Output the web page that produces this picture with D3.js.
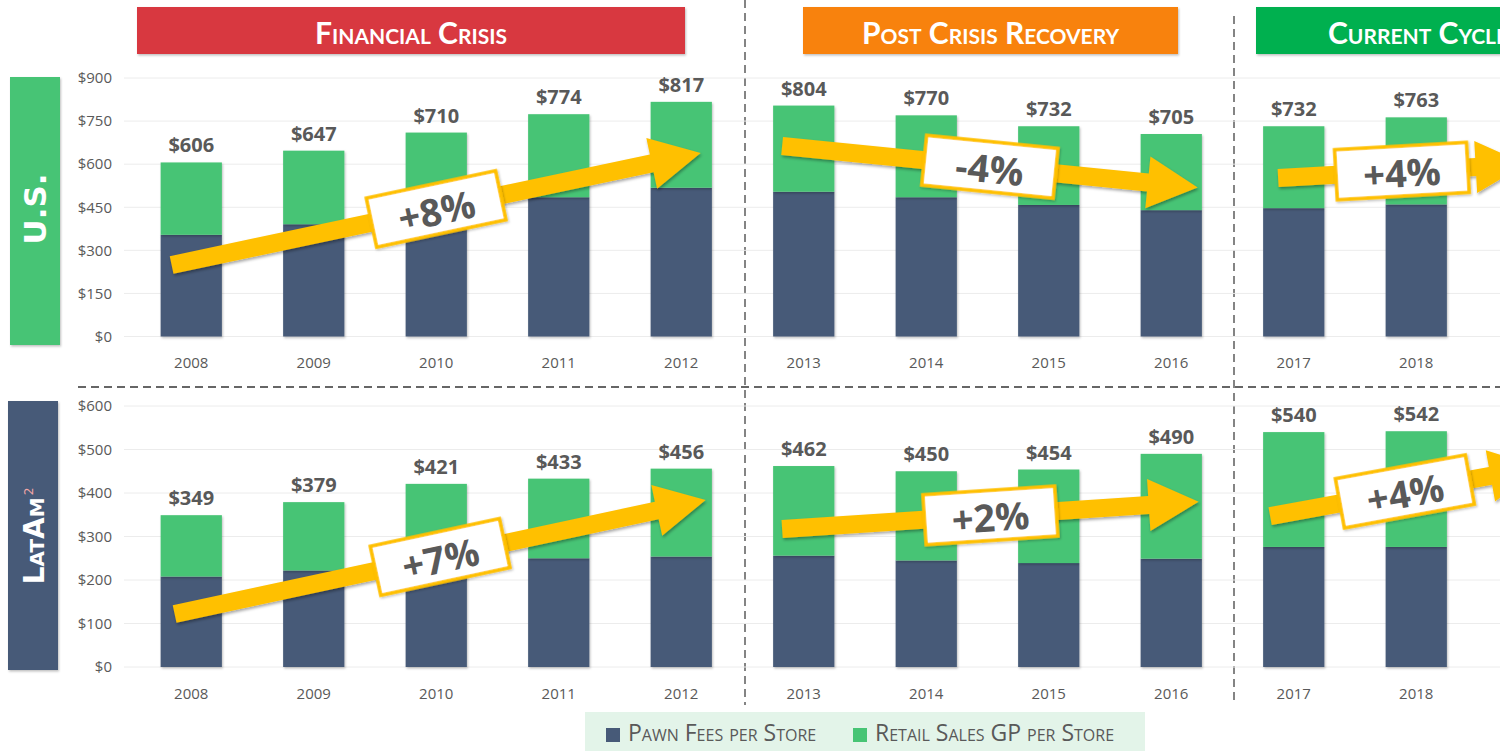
<!DOCTYPE html>
<html lang="en">
<head>
  <meta charset="UTF-8" />
  <title>Pawn Fees and Retail GP per Store</title>
  <style>
    *{margin:0;padding:0;box-sizing:border-box}
    body{background:#fff;width:1500px;height:751px;overflow:hidden}
    svg{display:block}
    .tick text{font-family:"Open Sans",sans-serif;fill:#595959}
    .sc{font-variant:small-caps}
  </style>
</head>
<body>
  <div id="chart"></div>
  <script src="https://d3js.org/d3.v7.min.js"></script>
  <script>
    // values per store
    const years     = [2008, 2009, 2010, 2011, 2012, 2013, 2014, 2015, 2016, 2017, 2018];
    const usPawn    = [354, 391, 430, 485, 518, 504, 485, 458, 440, 447, 460];
    const usRetail  = [252, 256, 280, 289, 299, 300, 285, 274, 265, 285, 303];
    const laPawn    = [208, 222, 236, 250, 254, 256, 245, 239, 249, 276, 276];
    const laRetail  = [141, 157, 185, 183, 202, 206, 205, 215, 241, 264, 266];
    const usTicks   = [0, 150, 300, 450, 600, 750, 900];
    const laTicks   = [0, 100, 200, 300, 400, 500, 600];
    const periods   = ['Financial Crisis', 'Post Crisis Recovery', 'Current Cycle'];
    const usGrowth  = ['+8%', '-4%', '+4%'];
    const laGrowth  = ['+7%', '+2%', '+4%'];
    const seriesNames = ['Pawn Fees per Store', 'Retail Sales GP per Store'];

    const W = 1500, H = 751;
    const col = { pawn:'#475a78', retail:'#47c475', gold:'#ffc000', text:'#595959' };
    const bannerCol = ['#d8393f', '#f8820c', '#00b050'];

    const svg = d3.select('#chart').append('svg').attr('width', W).attr('height', H);
    const defs = svg.append('defs');
    defs.append('filter').attr('id','sh').attr('x','-10%').attr('y','-30%').attr('width','130%').attr('height','180%')
      .append('feDropShadow').attr('dx',1).attr('dy',2).attr('stdDeviation',1.5).attr('flood-opacity',0.35);
    defs.append('filter').attr('id','sh2').attr('x','-10%').attr('y','-30%').attr('width','130%').attr('height','180%')
      .append('feDropShadow').attr('dx',1).attr('dy',1.5).attr('stdDeviation',1).attr('flood-opacity',0.25);

    const x = d3.scaleBand().domain(years).range([130, 1477.5]).paddingInner(0.5).paddingOuter(0.25);
    const bw = x.bandwidth();
    const yUS = d3.scaleLinear().domain([0, 900]).range([336.5, 78]);
    const yLA = d3.scaleLinear().domain([0, 600]).range([667, 406]);

    const panels = [
      { y:yUS, ticks:usTicks, pawn:usPawn, retail:usRetail, yearY:357 },
      { y:yLA, ticks:laTicks, pawn:laPawn, retail:laRetail, yearY:688 }
    ];

    // banners (the last one runs off the right edge, as on the slide)
    const banners = [[137, 685], [803, 1178], [1256, 1580]];
    banners.forEach(([a, b], i) => {
      svg.append('rect').attr('x', a).attr('y', 7).attr('width', b - a).attr('height', 47)
        .attr('fill', bannerCol[i]).attr('filter', 'url(#sh2)');
      svg.append('text').attr('class','sc').attr('x', (a + b) / 2).attr('y', 32)
        .attr('text-anchor','middle').attr('dominant-baseline','central')
        .attr('font-family','Lato, sans-serif').attr('font-weight',700).attr('font-size',30)
        .attr('fill','#fff').text(periods[i]);
    });

    // side labels
    svg.append('rect').attr('x',10).attr('y',77).attr('width',50).attr('height',268).attr('fill','#47c475').attr('filter','url(#sh2)');
    svg.append('text').attr('transform','translate(35,209) rotate(-90)').attr('text-anchor','middle')
      .attr('dominant-baseline','central').attr('font-family','"DejaVu Sans", sans-serif').attr('font-weight',700)
      .attr('font-size',31).attr('fill','#fff').text('U.S.');
    svg.append('rect').attr('x',8).attr('y',401).attr('width',50).attr('height',269).attr('fill','#475a78').attr('filter','url(#sh2)');
    const la = svg.append('text').attr('class','sc').attr('transform','translate(34,536) rotate(-90)').attr('text-anchor','middle')
      .attr('dominant-baseline','central').attr('font-family','"DejaVu Sans", sans-serif').attr('font-weight',700)
      .attr('font-size',28).attr('fill','#fff');
    la.append('tspan').text('LatAm');
    la.append('tspan').attr('font-size',12).attr('dy',-5).attr('dx',2).attr('fill','#f4a6a6').attr('font-weight',400).text('2');

    // dashed dividers
    const dash = '8,5';
    svg.append('line').attr('x1',78).attr('x2',W).attr('y1',387).attr('y2',387)
      .attr('stroke','#666').attr('stroke-width',2).attr('stroke-dasharray',dash);
    [745, 1234].forEach((lx, i) => {
      svg.append('line').attr('x1',lx).attr('x2',lx).attr('y1', i ? 16 : 0).attr('y2',705)
        .attr('stroke','#666').attr('stroke-width',1.6).attr('stroke-dasharray',dash);
    });

    function arrow(g, x0, y0, x1, y1, label) {
      const dx = x1 - x0, dy = y1 - y0, len = Math.hypot(dx, dy);
      const ux = dx / len, uy = dy / len, nx = -uy, ny = ux;
      const sw = 9, hw = 26, hl = 50;
      const nkx = x1 - ux * hl, nky = y1 - uy * hl;
      const pts = [
        [x0 + nx * sw, y0 + ny * sw], [nkx + nx * sw, nky + ny * sw], [nkx + nx * hw, nky + ny * hw],
        [x1, y1],
        [nkx - nx * hw, nky - ny * hw], [nkx - nx * sw, nky - ny * sw], [x0 - nx * sw, y0 - ny * sw]
      ];
      g.append('path').attr('d', 'M' + pts.join('L') + 'Z').attr('fill', col.gold).attr('filter','url(#sh)');
      const cx = (x0 + x1) / 2, cy = (y0 + y1) / 2, ang = Math.atan2(dy, dx) * 180 / Math.PI;
      const b = g.append('g').attr('transform', `translate(${cx},${cy}) rotate(${ang})`);
      b.append('rect').attr('x', -66).attr('y', -25).attr('width', 132).attr('height', 50)
        .attr('fill', '#fff').attr('stroke', col.gold).attr('stroke-width', 3.5).attr('filter','url(#sh2)');
      b.append('text').attr('text-anchor','middle').attr('dominant-baseline','central').attr('y', 1)
        .attr('font-family','"Open Sans", sans-serif').attr('font-weight',700).attr('font-size',38)
        .attr('fill', col.text).text(label);
    }

    panels.forEach(p => {
      const g = svg.append('g');
      // gridlines
      g.selectAll('.grid').data(p.ticks).join('line')
        .attr('x1', 124).attr('x2', W).attr('y1', d => p.y(d)).attr('y2', d => p.y(d))
        .attr('stroke', '#ececec').attr('stroke-width', 1);
      // y axis
      g.append('g').attr('transform', 'translate(118,0)')
        .call(d3.axisLeft(p.y).tickValues(p.ticks).tickSize(0).tickPadding(6).tickFormat(d => '$' + d))
        .call(a => a.select('.domain').remove())
        .selectAll('text').attr('font-size', 15);
      // x axis
      g.append('g').attr('transform', `translate(0,${p.yearY})`)
        .call(d3.axisBottom(x).tickSize(0).tickPadding(0))
        .call(a => a.select('.domain').remove())
        .selectAll('text').attr('font-size', 15);

      const rows = years.map((yr, i) => ({ yr, pawn: p.pawn[i], retail: p.retail[i] }));
      const stack = d3.stack().keys(['pawn', 'retail'])(rows);
      g.selectAll('.layer').data(stack).join('g').attr('fill', d => col[d.key]).attr('filter','url(#sh2)')
        .selectAll('rect').data(d => d).join('rect')
        .attr('x', d => x(d.data.yr)).attr('width', bw)
        .attr('y', d => p.y(d[1])).attr('height', d => p.y(d[0]) - p.y(d[1]));
      g.selectAll('.tot').data(rows).join('text')
        .attr('x', d => x(d.yr) + bw / 2).attr('y', d => p.y(d.pawn + d.retail) - 10)
        .attr('text-anchor', 'middle').attr('font-family','"Open Sans", sans-serif').attr('font-weight',700)
        .attr('font-size', 20).attr('fill', col.text).text(d => '$' + (d.pawn + d.retail));
    });

    // trend arrows, anchored to bar positions and value levels
    const ag = svg.append('g');
    const xl = yr => x(yr);
    arrow(ag, xl(2008) + 11, yUS(249), xl(2012) + 50, yUS(639), usGrowth[0]);
    arrow(ag, xl(2013) + 9, yUS(663), xl(2016) + 57, yUS(519), usGrowth[1]);
    arrow(ag, xl(2017) + 15, yUS(552), xl(2018) + 140, yUS(600), usGrowth[2]);
    arrow(ag, xl(2008) + 14, yLA(122), xl(2012) + 55, yLA(384), laGrowth[0]);
    arrow(ag, xl(2013) + 9, yLA(317), xl(2016) + 58, yLA(380), laGrowth[1]);
    arrow(ag, xl(2017) + 7, yLA(347), xl(2018) + 154, yLA(460), laGrowth[2]);

    // legend
    const lg = svg.append('g');
    lg.append('rect').attr('x', 585).attr('y', 712).attr('width', 560).attr('height', 39).attr('fill', '#e3f4e9');
    const items = [[606, col.pawn], [853, col.retail]];
    items.forEach(([lx, c], i) => {
      lg.append('rect').attr('x', lx).attr('y', 728).attr('width', 14).attr('height', 14).attr('fill', c);
      lg.append('text').attr('class','sc').attr('x', lx + 22).attr('y', 741)
        .attr('font-family','"Open Sans", sans-serif').attr('font-size', 23).attr('fill', col.text).text(seriesNames[i]);
    });
  </script>
</body>
</html>
